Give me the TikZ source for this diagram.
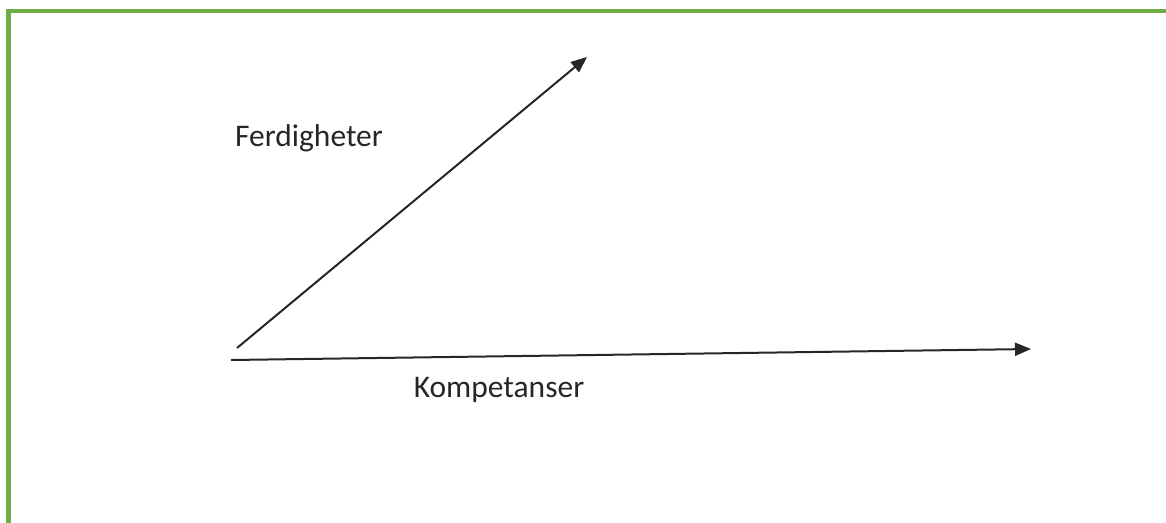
\documentclass[tikz,border=0pt]{standalone}
\usepackage{fontspec}
\setmainfont{Carlito}
\usetikzlibrary{arrows.meta}
\definecolor{framegreen}{HTML}{70AD47}
\definecolor{textgray}{HTML}{262626}
\tikzset{
  axisarrow/.style={line width=2pt, draw=black!85, -{Triangle[length=16pt,width=13pt]}},
  axislabel/.style={font=\fontsize{31.5}{38}\selectfont, text=textgray, inner sep=0pt},
}
\begin{document}
\begin{tikzpicture}[x=1pt,y=-1pt]
  \useasboundingbox (0,0) rectangle (1166,522);
  \begin{scope}
    \clip (0,0) rectangle (1166,522);
    % green frame, running off the right and bottom edges
    \draw[framegreen, line width=4.5pt] (8.5,11) rectangle (1180,540);
  \end{scope}
  % arrow end points
  \coordinate (o1) at (237,348);
  \coordinate (skill) at (587,57);
  \coordinate (o2) at (231,360);
  \coordinate (comp) at (1031,349);
  \draw[axisarrow] (o1) -- (skill);
  \draw[axisarrow] (o2) -- (comp);
  % labels
  \node[axislabel] (lskill) at (309,138) {Ferdigheter};
  \node[axislabel] (lcomp) at (499,390) {Kompetanser};
\end{tikzpicture}
\end{document}
